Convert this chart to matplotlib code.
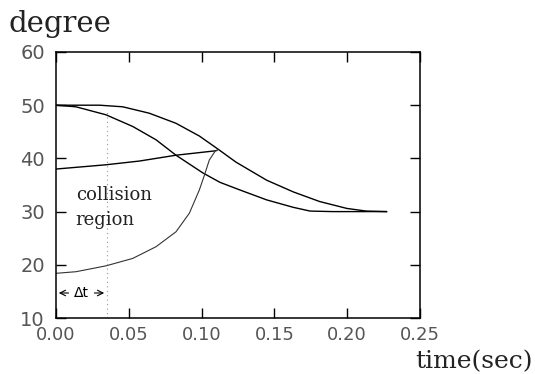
import matplotlib.pyplot as plt

# curve samples (time in sec, angle in degree)
t_a = [0.0, 0.030, 0.0458, 0.064, 0.0824, 0.0985, 0.112, 0.1236, 0.1447,
       0.163, 0.181, 0.1997, 0.213, 0.227]
a = [50.0, 50.0, 49.7, 48.5, 46.6, 44.2, 41.6, 39.3, 35.9,
     33.7, 31.9, 30.6, 30.1, 30.0]

t_b = [0.0, 0.0137, 0.0343, 0.0527, 0.0687, 0.0824, 0.1007, 0.1126, 0.126,
       0.1447, 0.163, 0.1745, 0.19, 0.227]
b = [50.0, 49.7, 48.2, 46.0, 43.5, 40.6, 37.3, 35.5, 34.1,
     32.2, 30.8, 30.1, 30.0, 30.0]

t_c = [0.0, 0.0343, 0.0572, 0.0824, 0.1087, 0.1105]
c = [38.0, 38.8, 39.5, 40.6, 41.4, 41.5]

t_d = [0.0, 0.0137, 0.0343, 0.0527, 0.0687, 0.0824, 0.0916, 0.0985, 0.102,
       0.1053, 0.1094, 0.1105]
d = [18.4, 18.7, 19.8, 21.2, 23.4, 26.2, 29.7, 34.1, 36.9,
     39.7, 41.4, 41.5]

dt = 0.035
xticks = [0.00, 0.05, 0.10, 0.15, 0.20, 0.25]
yticks = [10, 20, 30, 40, 50, 60]

fig = plt.figure(figsize=(5.35, 3.74), dpi=100)
ax = fig.add_axes([56 / 535, 1 - 318 / 374, 364 / 535, 266 / 374])

ax.plot(t_a, a, color='black', lw=1.0)
ax.plot(t_b, b, color='black', lw=1.0)
ax.plot(t_c, c, color='black', lw=1.0)
ax.plot(t_d, d, color='#333333', lw=0.8)
ax.plot([dt, dt], [10, 49], color='#999999', lw=0.8, ls=(0, (1, 3)))

# delta t arrow
ax.annotate('', xy=(0.0, 14.7), xytext=(0.0105, 14.7),
            arrowprops=dict(arrowstyle='->', lw=0.8, color='black'))
ax.annotate('', xy=(dt, 14.7), xytext=(0.0245, 14.7),
            arrowprops=dict(arrowstyle='->', lw=0.8, color='black'))
ax.text(dt / 2, 14.7, 'Δt', ha='center', va='center', fontsize=10,
        family='DejaVu Sans')

ax.text(0.0135, 30.7, 'collision\nregion', ha='left', va='center',
        fontsize=13, family='DejaVu Serif', linespacing=1.5, color='#222222')

ax.set_xlim(0, 0.25)
ax.set_ylim(10, 60)
ax.set_xticks(xticks)
ax.set_yticks(yticks)
ax.set_xticklabels(['%.2f' % v for v in xticks])
ax.tick_params(direction='in', length=7, width=1.0, top=True, right=True,
               labelsize=14, labelcolor='#555555')
ax.tick_params(axis='x', pad=6, labelsize=13)
ax.tick_params(axis='y', pad=8)
for s in ax.spines.values():
    s.set_linewidth(1.1)

fig.text(8 / 535, 1 - 24 / 374, 'degree', fontsize=21, family='DejaVu Serif',
         va='center', ha='left', color='#222222')
fig.text(533 / 535, 1 / 374, 'time(sec)', fontsize=18,
         family='DejaVu Serif', va='bottom', ha='right', color='#222222')

fig.savefig('out.png', dpi=100)
